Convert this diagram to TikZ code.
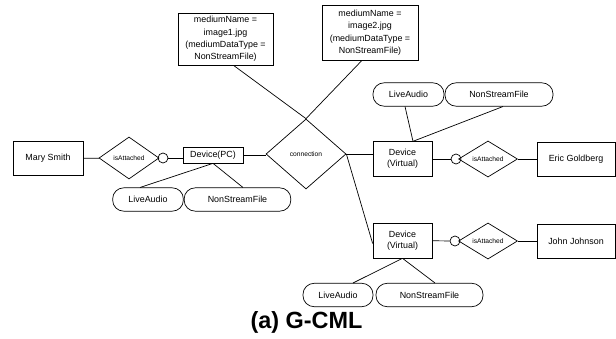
\documentclass[tikz,border=0pt]{standalone}
\usepackage{fontspec}
\setmainfont{Liberation Sans}
\usetikzlibrary{positioning,shapes.geometric,calc}

\begin{document}
\begin{tikzpicture}[
    x=0.03cm, y=-0.03cm,
    ent/.style={rectangle,draw,inner sep=1pt,align=center},
    rel/.style={diamond,draw,inner sep=0pt,font=\fontsize{5.7}{6.5}\selectfont},
    att/.style={circle,draw,minimum size=0.3cm,inner sep=0pt},
    val/.style={rectangle,draw,rounded corners=0.33cm,minimum height=0.7cm,inner sep=1pt},
    link/.style={line width=0.6pt},
    every node/.append style={line width=0.6pt},
    font=\fontsize{7.6}{10.6}\selectfont
  ]
  \useasboundingbox (0,0) rectangle (616,339);

  %% left side
  \node[ent,minimum width=2.1cm,minimum height=1cm] (ms) at (48,158.5) {Mary Smith};
  \node[rel,minimum width=1.8cm,minimum height=1.26cm] (r1) at (129,158) {isAttached};
  \node[att] (c1) at (163,158) {};
  \node[ent,minimum width=1.8cm,minimum height=0.48cm] (dpc) at (213,155) {Device(PC)};
  \node[val,minimum width=2.12cm] (la1) at (148,199.5) {LiveAudio};
  \node[val,minimum width=3.2cm] (nf1) at (237.5,199.5) {NonStreamFile};

  %% centre
  \node[rel,minimum width=2.4cm,minimum height=2.1cm] (con) at (306,154) {connection};
  \node[ent,minimum width=2.85cm,minimum height=1.56cm] (m1) at (225.5,39)
    {mediumName =\\image1.jpg\\(mediumDataType =\\NonStreamFile)};
  \node[ent,minimum width=2.88cm,minimum height=1.65cm] (m2) at (370,32.5)
    {mediumName =\\image2.jpg\\(mediumDataType =\\NonStreamFile)};

  %% upper right
  \node[ent,minimum width=1.77cm,minimum height=1.04cm] (dv1) at (402.5,159) {Device\\[-1pt](Virtual)};
  \node[att] (c2) at (456,159) {};
  \node[rel,minimum width=1.77cm,minimum height=1.06cm] (r2) at (488,159) {isAttached};
  \node[ent,minimum width=2.34cm,minimum height=1.02cm] (eg) at (576,159) {Eric Goldberg};
  \node[val,minimum width=2.13cm] (la2) at (408.5,94.5) {LiveAudio};
  \node[val,minimum width=3.24cm] (nf2) at (499,94.5) {NonStreamFile};

  %% lower right
  \node[ent,minimum width=1.77cm,minimum height=1.05cm] (dv2) at (402.5,240.5) {Device\\[-1pt](Virtual)};
  \node[att] (c3) at (455,241) {};
  \node[rel,minimum width=1.77cm,minimum height=1.08cm] (r3) at (488,241) {isAttached};
  \node[ent,minimum width=2.34cm,minimum height=1.02cm] (jj) at (576,241) {John Johnson};
  \node[val,minimum width=2.1cm] (la3) at (338,295) {LiveAudio};
  \node[val,minimum width=3.21cm] (nf3) at (429.5,295) {NonStreamFile};

  %% caption
  \node[font=\bfseries\fontsize{20}{22}\selectfont] (cap) at (306.5,322) {(a) G-CML};

  %% Mary Smith -- Device(PC)
  \draw[link] (ms) -- (r1);
  \draw[link] (r1) -- (c1);
  \draw[link] (c1) -- (c1 -| dpc.west);
  \draw[link] (dpc.east) -- (dpc.east -| con.west);
  \draw[link] (dpc.south) -- ($(la1.north)+(-8,0)$);
  \draw[link] (dpc.south) -- ($(nf1.north)+(5.5,0)$);

  %% media -- connection
  \draw[link] ($(m1.south)+(8,0)$) -- (con.north);
  \draw[link] ($(m2.south)+(-8,0)$) -- (con.north);

  %% connection -- devices
  \draw[link] (con.east) -- (con.east -| dv1.west);
  \draw[link] (con.east) -- ($(dv2.west)+(0,3)$);

  %% upper device
  \draw[link] (dv1) -- (c2);
  \draw[link] (r2) -- (eg);
  \draw[link] ($(la2.south)+(-3.5,0)$) -- ($(dv1.north)+(10.5,0)$);
  \draw[link] ($(nf2.south)+(4,0)$) -- ($(dv1.north)+(10.5,0)$);

  %% lower device
  \draw[link] (dv2) -- (c3);
  \draw[link] (r3) -- (jj);
  \draw[link] (dv2.south) -- ($(la3.north)+(15,0)$);
  \draw[link] (dv2.south) -- ($(nf3.north)+(5.5,0)$);
\end{tikzpicture}
\end{document}
